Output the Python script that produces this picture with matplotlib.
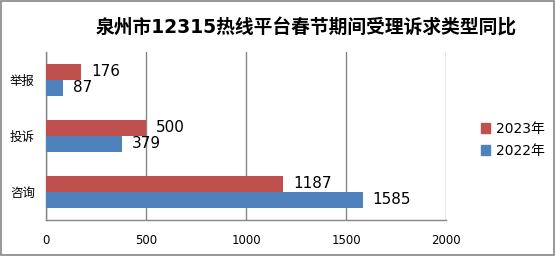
import matplotlib
matplotlib.use("Agg")
import matplotlib.pyplot as plt
from matplotlib.patches import Rectangle, Patch
import numpy as np

plt.rcParams['font.family'] = ['DejaVu Sans', 'Noto Sans CJK SC']

title = "泉州市12315热线平台春节期间受理诉求类型同比"
categories = ["举报", "投诉", "咨询"]
series_names = ["2023年", "2022年"]
values_2023 = [176, 500, 1187]
values_2022 = [87, 379, 1585]
xticks = [0, 500, 1000, 1500, 2000]

c2023 = "#C0504D"
c2022 = "#4F81BD"
grid_c = "#868686"

fig = plt.figure(figsize=(5.56, 2.56), dpi=100)
ax = fig.add_axes([46/556, 36/256, 400/556, 168/256])

y = np.arange(len(categories))
h = 16/56
ax.barh(y - h/2, values_2023, height=h, color=c2023, zorder=3)
ax.barh(y + h/2, values_2022, height=h, color=c2022, zorder=3)

for yi, v in zip(y, values_2023):
    ax.annotate(str(v), (v, yi - h/2), xytext=(7, 0), textcoords='offset points',
                va='center', ha='left', fontsize=11)
for yi, v in zip(y, values_2022):
    ax.annotate(str(v), (v, yi + h/2), xytext=(7, 0), textcoords='offset points',
                va='center', ha='left', fontsize=11)

ax.set_xlim(0, 2000)
ax.set_ylim(2.5, -0.5)
ax.set_xticks(xticks)
ax.set_xticklabels([str(t) for t in xticks], fontsize=8.5)
ax.set_yticks(y)
ax.set_yticklabels(categories, fontsize=9)
ax.tick_params(axis='x', length=0, pad=10)
ax.tick_params(axis='y', length=0, pad=8)
ax.xaxis.grid(True, color=grid_c, linewidth=1)
ax.set_axisbelow(True)
for s in ['top', 'right']:
    ax.spines[s].set_visible(False)
for s in ['left', 'bottom']:
    ax.spines[s].set_color(grid_c)
    ax.spines[s].set_linewidth(1)

fig.text(306/556, 1 - 28/256, title, ha='center', va='center',
         fontsize=13.5, fontweight='bold')

handles = [Patch(color=c2023), Patch(color=c2022)]
fig.legend(handles, series_names, loc='center left', bbox_to_anchor=(468/556, 1 - 140/256),
           frameon=False, fontsize=10, handlelength=0.7, handleheight=0.7,
           handletextpad=0.4, labelspacing=0.6)

fig.patches.append(Rectangle((0.001, 0.004), 0.996, 0.994, transform=fig.transFigure,
                             fill=False, edgecolor=grid_c, linewidth=1.2))

fig.savefig("out.png", dpi=100)
